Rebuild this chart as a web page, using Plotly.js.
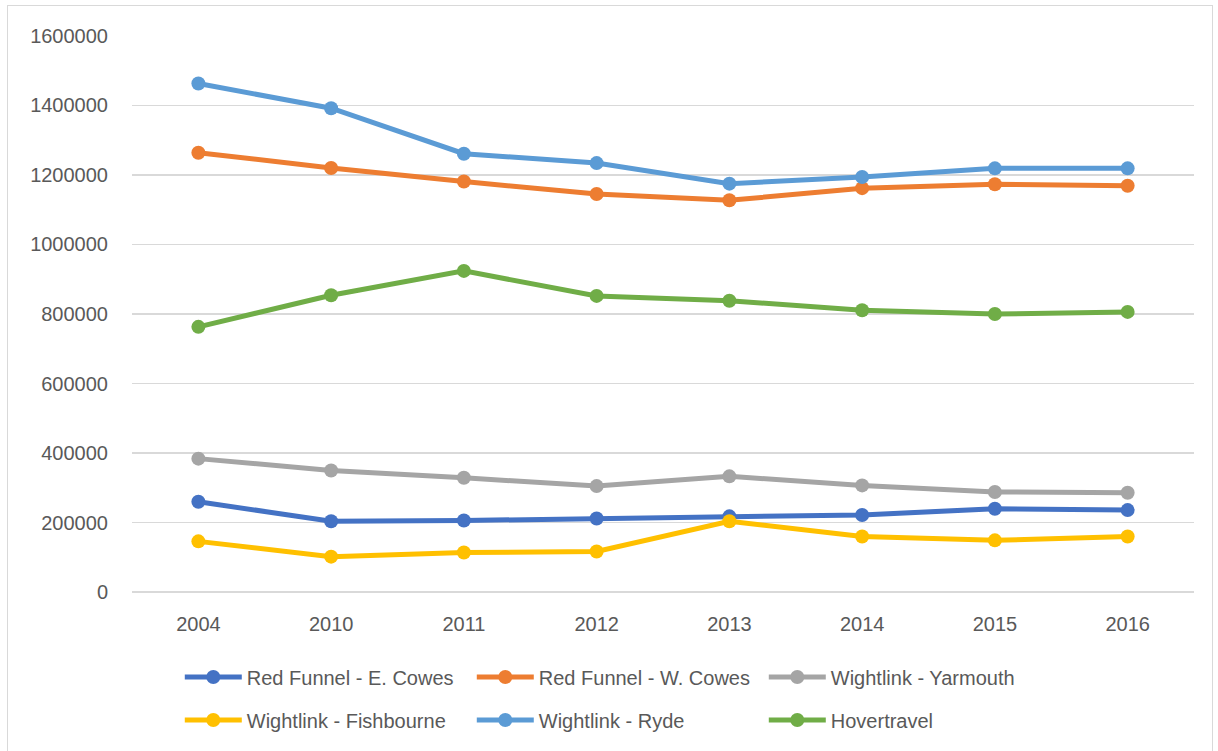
<!DOCTYPE html>
<html>
<head>
<meta charset="utf-8">
<script src="https://cdn.plot.ly/plotly-3.0.1.min.js"></script>
<style>
html,body{margin:0;padding:0;background:#fff;}
#chart{width:1218px;height:751px;position:absolute;left:0;top:0;}
#frame{position:absolute;left:7px;top:5px;width:1204px;height:760px;border:1px solid #d9d9d9;pointer-events:none;}
</style>
</head>
<body>
<div id="chart"></div>
<div id="frame"></div>
<script>
const years = ['2004','2010','2011','2012','2013','2014','2015','2016'];
const seriesNames = ['Red Funnel - E. Cowes','Red Funnel - W. Cowes','Wightlink - Yarmouth','Wightlink - Fishbourne','Wightlink - Ryde','Hovertravel'];
const redFunnelECowes = [260000,204000,206000,212000,218000,222000,240000,236000];
const redFunnelWCowes = [1264000,1220000,1181000,1145000,1127000,1162000,1173000,1169000];
const wightlinkYarmouth = [384000,350000,329000,305000,333000,307000,288000,286000];
const wightlinkFishbourne = [146000,102000,114000,117000,204000,160000,149000,160000];
const wightlinkRyde = [1463000,1392000,1261000,1234000,1175000,1194000,1219000,1219000];
const hovertravel = [763000,854000,924000,852000,838000,811000,800000,806000];
const yTicks = [0,200000,400000,600000,800000,1000000,1200000,1400000,1600000];

const colors = ['#4472C4','#ED7D31','#A5A5A5','#FFC000','#5B9BD5','#70AD47'];
const data = [redFunnelECowes, redFunnelWCowes, wightlinkYarmouth, wightlinkFishbourne, wightlinkRyde, hovertravel];
const font = {family:'Liberation Sans, Arial, sans-serif', size:20, color:'#595959'};

const traces = data.map((vals,i)=>({
  type:'scatter', mode:'lines+markers', x:years, y:vals, name:seriesNames[i],
  line:{color:colors[i], width:5},
  marker:{color:colors[i], size:14},
  legend: i < 3 ? 'legend' : 'legend2',
  hoverinfo:'x+y+name'
}));

const legendCommon = {orientation:'h', xanchor:'left', yanchor:'middle', x:0.045,
  font:font, entrywidth:220, entrywidthmode:'pixels', itemwidth:57, bgcolor:'rgba(0,0,0,0)', traceorder:'normal'};

const layout = {
  width:1218, height:751,
  margin:{l:132, r:24, t:35, b:158, autoexpand:false},
  paper_bgcolor:'#fff', plot_bgcolor:'#fff',
  font:font,
  showlegend:true,
  xaxis:{type:'category', range:[-0.5,7.5], showgrid:false, zeroline:false, showline:false, ticks:'',
    tickfont:font, ticklabelstandoff:17, fixedrange:true, automargin:false},
  yaxis:{range:[-2500,1602500], tickvals:yTicks, ticktext:yTicks.map(v=>String(v)),
    showgrid:true, gridcolor:'#d9d9d9', gridwidth:1.5, zeroline:true, zerolinecolor:'#d9d9d9', zerolinewidth:1.5,
    showline:false, ticks:'',
    tickfont:font, ticklabelstandoff:23, fixedrange:true, automargin:false},
  legend:Object.assign({}, legendCommon, {y:-0.1505}),
  legend2:Object.assign({}, legendCommon, {y:-0.2276})
};

Plotly.newPlot('chart', traces, layout, {displayModeBar:false, staticPlot:true});
</script>
</body>
</html>
